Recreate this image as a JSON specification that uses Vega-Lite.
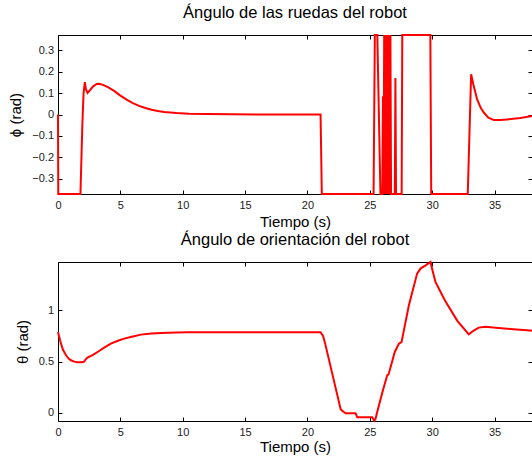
{
  "$schema": "https://vega.github.io/schema/vega-lite/v6.json",
  "autosize": {"type": "none"},
  "padding": {"left": 58, "top": 35, "right": 0, "bottom": 0},
  "params": [
    {"name": "width", "value": 474},
    {"name": "height", "value": 423}
  ],
  "background": "white",
  "config": {
    "view": {"stroke": "black", "strokeWidth": 1},
    "font": "Liberation Sans",
    "axis": {
      "grid": false,
      "domain": false,
      "labelFlush": false,
      "tickColor": "black",
      "tickSize": -4,
      "tickWidth": 1,
      "labelFont": "Liberation Sans",
      "labelFontSize": 11,
      "labelColor": "#1a1a1a",
      "titleFont": "Liberation Sans",
      "titleFontSize": 15,
      "titleFontWeight": "normal",
      "titleColor": "black"
    },
    "title": {"font": "Liberation Sans", "fontSize": 16.5, "fontWeight": "normal", "color": "black", "baseline": "alphabetic", "offset": 10, "anchor": "middle"},
    "line": {"color": "#ff0000", "strokeWidth": 2, "clip": true}
  },
  "datasets": {
    "phi": [
      {"t": 0, "phi": 0}, {"t": 0.02, "phi": -0.37}, {"t": 1.8, "phi": -0.37}, {"t": 1.95, "phi": -0.05},
      {"t": 2.05, "phi": 0.1}, {"t": 2.15, "phi": 0.151}, {"t": 2.25, "phi": 0.115}, {"t": 2.37, "phi": 0.1},
      {"t": 2.55, "phi": 0.112}, {"t": 2.8, "phi": 0.13}, {"t": 3.1, "phi": 0.142}, {"t": 3.3, "phi": 0.143},
      {"t": 3.6, "phi": 0.138}, {"t": 4.0, "phi": 0.127}, {"t": 4.5, "phi": 0.11}, {"t": 5.0, "phi": 0.088},
      {"t": 5.5, "phi": 0.069}, {"t": 6.0, "phi": 0.053}, {"t": 6.5, "phi": 0.04}, {"t": 7.0, "phi": 0.03},
      {"t": 7.5, "phi": 0.022}, {"t": 8.0, "phi": 0.016}, {"t": 8.5, "phi": 0.012}, {"t": 9.5, "phi": 0.007},
      {"t": 10.5, "phi": 0.004}, {"t": 12, "phi": 0.002}, {"t": 14, "phi": 0.001}, {"t": 16, "phi": 0},
      {"t": 21.05, "phi": 0}, {"t": 21.15, "phi": -0.37}, {"t": 25.3, "phi": -0.37}, {"t": 25.4, "phi": 0.37},
      {"t": 25.6, "phi": 0.37}, {"t": 25.85, "phi": -0.37}, {"t": 26.0, "phi": -0.37}, {"t": 26.05, "phi": 0.085},
      {"t": 26.1, "phi": -0.37}, {"t": 26.15, "phi": 0.37}, {"t": 26.2, "phi": -0.37}, {"t": 26.25, "phi": 0.37},
      {"t": 26.3, "phi": -0.37}, {"t": 26.35, "phi": 0.37}, {"t": 26.4, "phi": -0.37}, {"t": 26.45, "phi": 0.37},
      {"t": 26.5, "phi": -0.37}, {"t": 26.55, "phi": 0.37}, {"t": 26.6, "phi": -0.37}, {"t": 26.65, "phi": 0.37},
      {"t": 26.7, "phi": -0.37}, {"t": 27.0, "phi": -0.37}, {"t": 27.05, "phi": 0.17}, {"t": 27.1, "phi": -0.37},
      {"t": 27.55, "phi": -0.37}, {"t": 27.6, "phi": 0.37}, {"t": 29.85, "phi": 0.37}, {"t": 29.92, "phi": -0.37},
      {"t": 32.85, "phi": -0.37}, {"t": 33.12, "phi": 0.187}, {"t": 33.3, "phi": 0.14}, {"t": 33.6, "phi": 0.07},
      {"t": 33.9, "phi": 0.03}, {"t": 34.15, "phi": 0.008}, {"t": 34.5, "phi": -0.015}, {"t": 34.95, "phi": -0.026},
      {"t": 35.5, "phi": -0.026}, {"t": 36.0, "phi": -0.023}, {"t": 36.5, "phi": -0.02}, {"t": 37.07, "phi": -0.016},
      {"t": 37.9, "phi": -0.008}, {"t": 38, "phi": -0.007}
    ],
    "theta": [
      {"t": 0, "theta": 0.789}, {"t": 0.1, "theta": 0.74}, {"t": 0.24, "theta": 0.675}, {"t": 0.4, "theta": 0.615},
      {"t": 0.64, "theta": 0.562}, {"t": 0.85, "theta": 0.53}, {"t": 1.04, "theta": 0.513}, {"t": 1.3, "theta": 0.5},
      {"t": 1.57, "theta": 0.494}, {"t": 1.9, "theta": 0.494}, {"t": 2.1, "theta": 0.5}, {"t": 2.2, "theta": 0.52},
      {"t": 2.37, "theta": 0.539}, {"t": 2.8, "theta": 0.565}, {"t": 3.17, "theta": 0.594}, {"t": 3.7, "theta": 0.636},
      {"t": 4.24, "theta": 0.675}, {"t": 4.8, "theta": 0.703}, {"t": 5.31, "theta": 0.724}, {"t": 6.0, "theta": 0.745},
      {"t": 6.64, "theta": 0.763}, {"t": 7.5, "theta": 0.774}, {"t": 8.25, "theta": 0.779}, {"t": 9.5, "theta": 0.784},
      {"t": 10.4, "theta": 0.786}, {"t": 15, "theta": 0.787}, {"t": 21.05, "theta": 0.787}, {"t": 21.25, "theta": 0.75},
      {"t": 21.4, "theta": 0.685}, {"t": 22.66, "theta": 0.036}, {"t": 22.8, "theta": 0.02}, {"t": 22.92, "theta": 0.01},
      {"t": 23.06, "theta": -0.003}, {"t": 23.86, "theta": -0.003}, {"t": 23.99, "theta": -0.042}, {"t": 25.19, "theta": -0.042},
      {"t": 25.35, "theta": -0.075}, {"t": 25.45, "theta": -0.06}, {"t": 25.59, "theta": 0.01}, {"t": 26.0, "theta": 0.2},
      {"t": 26.39, "theta": 0.367}, {"t": 26.5, "theta": 0.375}, {"t": 27.0, "theta": 0.594}, {"t": 27.33, "theta": 0.675},
      {"t": 27.54, "theta": 0.69}, {"t": 28.13, "theta": 1.049}, {"t": 28.79, "theta": 1.357}, {"t": 29.06, "theta": 1.406},
      {"t": 29.5, "theta": 1.44}, {"t": 29.86, "theta": 1.47}, {"t": 30.0, "theta": 1.4}, {"t": 30.26, "theta": 1.276},
      {"t": 31.0, "theta": 1.1}, {"t": 32.0, "theta": 0.9}, {"t": 32.93, "theta": 0.766}, {"t": 33.3, "theta": 0.8},
      {"t": 33.73, "theta": 0.831}, {"t": 34.27, "theta": 0.84}, {"t": 35.33, "theta": 0.828}, {"t": 36.5, "theta": 0.815},
      {"t": 37.87, "theta": 0.802}, {"t": 38, "theta": 0.801}
    ]
  },
  "spacing": 68,
  "bounds": "flush",
  "vconcat": [
    {
      "width": 474,
      "height": 159,
      "title": "Ángulo de las ruedas del robot",
      "data": {"name": "phi"},
      "layer": [
        {
          "mark": "line",
          "encoding": {
            "x": {"field": "t", "type": "quantitative", "scale": {"domain": [0, 38], "nice": false, "zero": false},
              "axis": {"orient": "bottom", "values": [0, 5, 10, 15, 20, 25, 30, 35], "format": "d", "labelPadding": 9,
                "title": "Tiempo (s)", "titleBaseline": "alphabetic", "titleY": 32}},
            "y": {"field": "phi", "type": "quantitative", "scale": {"domain": [-0.37, 0.37], "nice": false, "zero": false},
              "axis": {"orient": "left", "values": [-0.3, -0.2, -0.1, 0, 0.1, 0.2, 0.3], "format": ".1~f", "labelPadding": 8.5,
                "title": "ϕ (rad)", "titleAngle": 270, "titleBaseline": "alphabetic", "titleX": -38}}
          }
        },
        {
          "mark": {"type": "line", "opacity": 0},
          "encoding": {
            "x": {"field": "t", "type": "quantitative",
              "axis": {"orient": "top", "values": [0, 5, 10, 15, 20, 25, 30, 35], "labels": false, "title": null}},
            "y": {"field": "phi", "type": "quantitative",
              "axis": {"orient": "right", "values": [-0.3, -0.2, -0.1, 0, 0.1, 0.2, 0.3], "labels": false, "title": null}}
          }
        }
      ]
    },
    {
      "width": 474,
      "height": 159,
      "title": "Ángulo de orientación del robot",
      "data": {"name": "theta"},
      "layer": [
        {
          "mark": "line",
          "encoding": {
            "x": {"field": "t", "type": "quantitative", "scale": {"domain": [0, 38], "nice": false, "zero": false},
              "axis": {"orient": "bottom", "values": [0, 5, 10, 15, 20, 25, 30, 35], "format": "d", "labelPadding": 9,
                "title": "Tiempo (s)", "titleBaseline": "alphabetic", "titleY": 30}},
            "y": {"field": "theta", "type": "quantitative", "scale": {"domain": [-0.078, 1.47], "nice": false, "zero": false},
              "axis": {"orient": "left", "values": [0, 0.5, 1], "format": ".1~f", "labelPadding": 8.5,
                "title": "θ (rad)", "titleAngle": 270, "titleBaseline": "alphabetic", "titleX": -31}}
          }
        },
        {
          "mark": {"type": "line", "opacity": 0},
          "encoding": {
            "x": {"field": "t", "type": "quantitative",
              "axis": {"orient": "top", "values": [0, 5, 10, 15, 20, 25, 30, 35], "labels": false, "title": null}},
            "y": {"field": "theta", "type": "quantitative",
              "axis": {"orient": "right", "values": [0, 0.5, 1], "labels": false, "title": null}}
          }
        }
      ]
    }
  ]
}
